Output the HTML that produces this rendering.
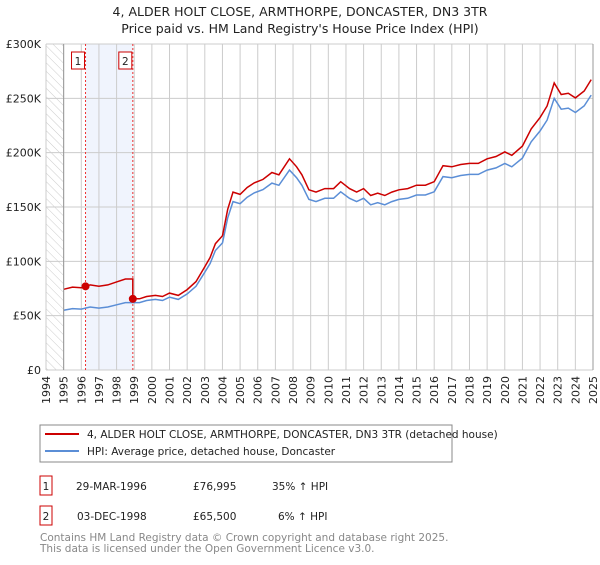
<!DOCTYPE html>
<html><head><meta charset="utf-8"><style>
body{margin:0;background:#fff;font-family:"Liberation Sans","DejaVu Sans",sans-serif;}
svg text{font-family:"DejaVu Sans","Liberation Sans",sans-serif;}
</style></head><body>
<svg id="chart" width="600" height="560" xmlns="http://www.w3.org/2000/svg">
<defs><pattern id="hatch" width="6" height="6" patternUnits="userSpaceOnUse" patternTransform="rotate(-45)"><line x1="0" y1="0" x2="0" y2="6" stroke="#ccc" stroke-width="1"/></pattern></defs>
<text x="300" y="16" text-anchor="middle" font-size="12.5" fill="#222">4, ALDER HOLT CLOSE, ARMTHORPE, DONCASTER, DN3 3TR</text>
<text x="300" y="33" text-anchor="middle" font-size="12.5" fill="#222">Price paid vs. HM Land Registry's House Price Index (HPI)</text>
<g id="grid"></g><g id="marks"></g><g id="axes"></g>
<rect x="40" y="425" width="412" height="37" fill="#fff" stroke="#888"/>
<line x1="45" y1="434" x2="79" y2="434" stroke="#cc0000" stroke-width="2"/>
<text x="87" y="438" font-size="10.5" fill="#222">4, ALDER HOLT CLOSE, ARMTHORPE, DONCASTER, DN3 3TR (detached house)</text>
<line x1="45" y1="451" x2="79" y2="451" stroke="#5b8ed6" stroke-width="2"/>
<text x="87" y="455" font-size="10.5" fill="#222">HPI: Average price, detached house, Doncaster</text>
<g font-size="10.5" fill="#222">
<rect x="40" y="476" width="12" height="19" fill="#fff" stroke="#cc0000"/><text x="46" y="490" text-anchor="middle">1</text>
<text x="76" y="490">29-MAR-1996</text><text x="193" y="490">£76,995</text><text x="272" y="490">35% ↑ HPI</text></g>
<g font-size="10.5" fill="#222">
<rect x="40" y="506" width="12" height="19" fill="#fff" stroke="#cc0000"/><text x="46" y="520" text-anchor="middle">2</text>
<text x="77" y="520">03-DEC-1998</text><text x="193" y="520">£65,500</text><text x="278" y="520">6% ↑ HPI</text></g>
<text x="40" y="541" font-size="10.5" fill="#888">Contains HM Land Registry data © Crown copyright and database right 2025.</text>
<text x="40" y="552" font-size="10.5" fill="#888">This data is licensed under the Open Government Licence v3.0.</text>
</svg>
<script>
const hpiYears=[1995,1995.5,1996,1996.24,1996.5,1997,1997.5,1998,1998.5,1998.92,1999.3,1999.7,2000.2,2000.6,2001,2001.5,2002,2002.5,2003,2003.3,2003.6,2004,2004.3,2004.6,2005,2005.4,2005.8,2006.3,2006.8,2007.2,2007.8,2008.2,2008.5,2008.9,2009.3,2009.8,2010.3,2010.7,2011.2,2011.6,2012,2012.4,2012.8,2013.2,2013.6,2014,2014.5,2015,2015.5,2016,2016.5,2017,2017.5,2018,2018.5,2019,2019.5,2020,2020.4,2021,2021.5,2022,2022.4,2022.8,2023.2,2023.6,2024,2024.5,2024.9];
const hpiValues=[55,56.5,56,57,58,57,58,60,62,62,62,64,65,64,67,65,70,77,90,98,110,117,140,155,153,159,163,166,172,170,184,177,170,157,155,158,158,164,158,155,158,152,154,152,155,157,158,161,161,164,178,177,179,180,180,184,186,190,187,195,210,220,230,250,240,241,237,243,253];
const saleYears=[1996.24,1998.92];
const salePrices=[76995,65500];
const saleLabels=["1","2"];
const yTicks=[0,50000,100000,150000,200000,250000,300000];
const yTickLabels=["£0","£50K","£100K","£150K","£200K","£250K","£300K"];
const xTicks=[1994,1995,1996,1997,1998,1999,2000,2001,2002,2003,2004,2005,2006,2007,2008,2009,2010,2011,2012,2013,2014,2015,2016,2017,2018,2019,2020,2021,2022,2023,2024,2025];
const X0=46,X1=593,Y0=370,Y1=44;
const xs=y=>X0+(y-1994)/(2025-1994)*(X1-X0);
const ys=v=>Y0-v/300000*(Y0-Y1);
const NS="http://www.w3.org/2000/svg";
function mk(parent,tag,attrs){const e=document.createElementNS(NS,tag);for(const k in attrs)e.setAttribute(k,attrs[k]);parent.appendChild(e);return e;}
const grid=document.getElementById('grid'),marks=document.getElementById('marks'),axes=document.getElementById('axes');
let r=mk(grid,'rect',{x:xs(1994),y:Y1,width:xs(1995)-xs(1994),height:Y0-Y1,fill:'url(#hatch)'});


r=mk(grid,'rect',{x:xs(saleYears[0]),y:Y1,width:xs(saleYears[1])-xs(saleYears[0]),height:Y0-Y1,fill:'#f0f4fd'});


xTicks.forEach(t=>{
 const l=mk(grid,'line',{x1:xs(t),x2:xs(t),y1:Y1,y2:Y0,stroke:'#ccc','stroke-width':1});
 
 
 const tx=mk(axes,'text',{x:0,y:0,'font-size':11,fill:'#222','text-anchor':'end',transform:`translate(${xs(t)+4},${Y0+6}) rotate(-90)`});
 tx.textContent=t;
 
 
});
yTicks.forEach((t,i)=>{
 const l=mk(grid,'line',{x1:X0,x2:X1,y1:ys(t),y2:ys(t),stroke:'#ccc','stroke-width':1});
 
 
 const tx=mk(axes,'text',{x:41,y:ys(t)+4,'font-size':11,fill:'#222','text-anchor':'end'});
 tx.textContent=yTickLabels[i];
 
 
});
let ax=mk(axes,'line',{x1:xs(1995),x2:xs(1995),y1:Y1,y2:Y0,stroke:'#999'});


ax=mk(axes,'line',{x1:X1,x2:X1,y1:Y1,y2:Y0,stroke:'#999'});


function hpiAt(y){for(let i=1;i<hpiYears.length;i++){if(y<=hpiYears[i]){const f=(y-hpiYears[i-1])/(hpiYears[i]-hpiYears[i-1]);return hpiValues[i-1]+f*(hpiValues[i]-hpiValues[i-1]);}}return hpiValues[hpiValues.length-1];}
saleYears.forEach((sy,i)=>{
 const l=mk(marks,'line',{x1:xs(sy),x2:xs(sy),y1:Y1,y2:Y0,stroke:'#e33','stroke-dasharray':'2,2'});
 
 
});
let hp=hpiYears.map((y,i)=>`${xs(y).toFixed(1)},${ys(hpiValues[i]*1000).toFixed(1)}`).join(' ');
const hl=mk(marks,'polyline',{points:hp,fill:'none',stroke:'#5b8ed6','stroke-width':1.5});


const r0=salePrices[0]/(hpiAt(saleYears[0])*1000),r1=salePrices[1]/(hpiAt(saleYears[1])*1000);
let pts=[];
hpiYears.forEach((y,i)=>{if(y<saleYears[1])pts.push([y,hpiValues[i]*1000*r0]);});
pts.push([saleYears[1],hpiAt(saleYears[1])*1000*r0]);
pts.push([saleYears[1],salePrices[1]]);
hpiYears.forEach((y,i)=>{if(y>saleYears[1])pts.push([y,hpiValues[i]*1000*r1]);});
const pl=mk(marks,'polyline',{points:pts.map(p=>`${xs(p[0]).toFixed(1)},${ys(p[1]).toFixed(1)}`).join(' '),fill:'none',stroke:'#cc0000','stroke-width':1.5});


saleYears.forEach((sy,i)=>{
 const c=mk(marks,'circle',{cx:xs(sy),cy:ys(salePrices[i]),r:4,fill:'#cc0000'});
 
 
 const b=mk(marks,'rect',{x:xs(sy)-14,y:52,width:13,height:17,fill:'#fff',stroke:'#cc0000'});
 
 
 const t=mk(marks,'text',{x:xs(sy)-7.5,y:65,'font-size':10.5,'text-anchor':'middle',fill:'#222'});
 t.textContent=saleLabels[i];
 
 
});
</script>
</body></html>
